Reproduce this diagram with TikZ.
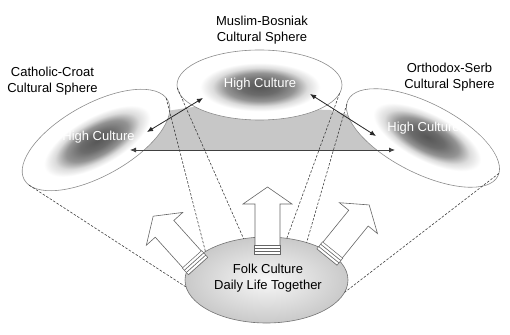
\documentclass[tikz,border=0pt]{standalone}
\usepackage{fontspec}
\setmainfont{Liberation Sans}
\usetikzlibrary{shapes.geometric,arrows.meta}
\pgfdeclareradialshading{hcblob}{\pgfpointorigin}{color(0bp)=(black!66); color(6bp)=(black!58); color(11bp)=(black!42); color(15bp)=(black!14); color(19bp)=(white); color(50bp)=(white)}

\begin{document}
\begin{tikzpicture}[x=1pt,y=1pt,>={Latex[length=6pt,width=5pt]},
  every node/.style={font=\fontsize{13}{16}\selectfont},
  sphere/.style={ellipse,draw=black!45,line width=0.6pt,fill=white,inner sep=0pt,outer sep=0pt},
  hc/.style={text=white},
  cone/.style={draw=black!75,line width=0.6pt,dash pattern=on 2.5pt off 1.6pt},
  link/.style={<->,draw=black!85,line width=0.8pt},
  blockarrow/.style={draw=black!60,fill=white,line width=0.6pt,line join=miter},
  stripe/.style={draw=black!60,fill=white,line width=0.5pt},
  pics/uparrow/.style={code={
    \draw[blockarrow] (0,-12.5) -- (50,-12.5) -- (50,-24.5) -- (67,0) -- (50,24.5) -- (50,12.5) -- (0,12.5) -- cycle;
    \foreach \s in {0,3,6} \draw[stripe] (\s,-13) rectangle ++(3,26);
  }}]
  \useasboundingbox (0,0) rectangle (510,334);

  % shared ground between the spheres
  \fill[black!22] (130,184) -- (160,222) -- (200,228) -- (330,224) -- (352,218) -- (395,184) -- cycle;

  % the three cultural spheres
  \node[sphere,rotate=29,minimum width=164pt,minimum height=72pt] (croat) at (96,194) {};
  \node[sphere,minimum width=165pt,minimum height=70pt] (bosniak) at (259.5,249) {};
  \node[sphere,rotate=-27,minimum width=168pt,minimum height=70pt] (serb) at (423,196) {};

  \shade[overlay,shading=hcblob,transform canvas={shift={(97,193)},rotate=29}] (0,0) ellipse [x radius=78,y radius=32];
  \shade[shading=hcblob] (260,247) ellipse [x radius=79,y radius=32];
  \shade[overlay,shading=hcblob,transform canvas={shift={(427,197)},rotate=-27}] (0,0) ellipse [x radius=78,y radius=31];

  \node[hc] (croathc) at (98.5,197) {High Culture};
  \node[hc] (bosniakhc) at (260,250) {High Culture};
  \node[hc] (serbhc) at (423.5,206) {High Culture};

  \node[align=center] (croatlbl) at (52.5,253) {Catholic-Croat\\Cultural Sphere};
  \node[align=center] (bosniaklbl) at (262,304) {Muslim-Bosniak\\Cultural Sphere};
  \node[align=center] (serblbl) at (449.5,257) {Orthodox-Serb\\Cultural Sphere};

  % folk culture at the bottom
  \node[ellipse,draw=black!55,line width=0.6pt,inner sep=0pt,outer sep=0pt,
    shading=radial,inner color=gray!6,outer color=gray!42,
    minimum width=163pt,minimum height=86pt] (folk) at (266.5,54) {};
  \node[align=center] (folklbl) at (268,56) {Folk Culture\\Daily Life Together};

  % cones
  \draw[cone] (croat.185) -- (folk.185);
  \draw[cone] (croat.2) -- (folk.155);
  \draw[cone] (bosniak.182) -- (folk.119);
  \draw[cone] (bosniak.354) -- (folk.64);
  \draw[cone] (serb.183) -- (folk.43);
  \draw[cone] (serb.2) -- (folk.351);

  % rising arrows
  \pic[rotate=132] (leftup) at (198,68) {uparrow};
  \pic[rotate=90] (midup) at (267.5,80) {uparrow};
  \pic[rotate=51] (rightup) at (327,77) {uparrow};

  % exchange between high cultures
  \coordinate (cb1) at (147,202);
  \coordinate (cb2) at (203,236);
  \coordinate (bs1) at (310,240);
  \coordinate (bs2) at (376,198);
  \coordinate (cs1) at (130,184);
  \coordinate (cs2) at (395,184);
  \draw[link] (cb1) -- (cb2);
  \draw[link] (bs1) -- (bs2);
  \draw[link,draw=black!75] (cs1) -- (cs2);
\end{tikzpicture}
\end{document}
